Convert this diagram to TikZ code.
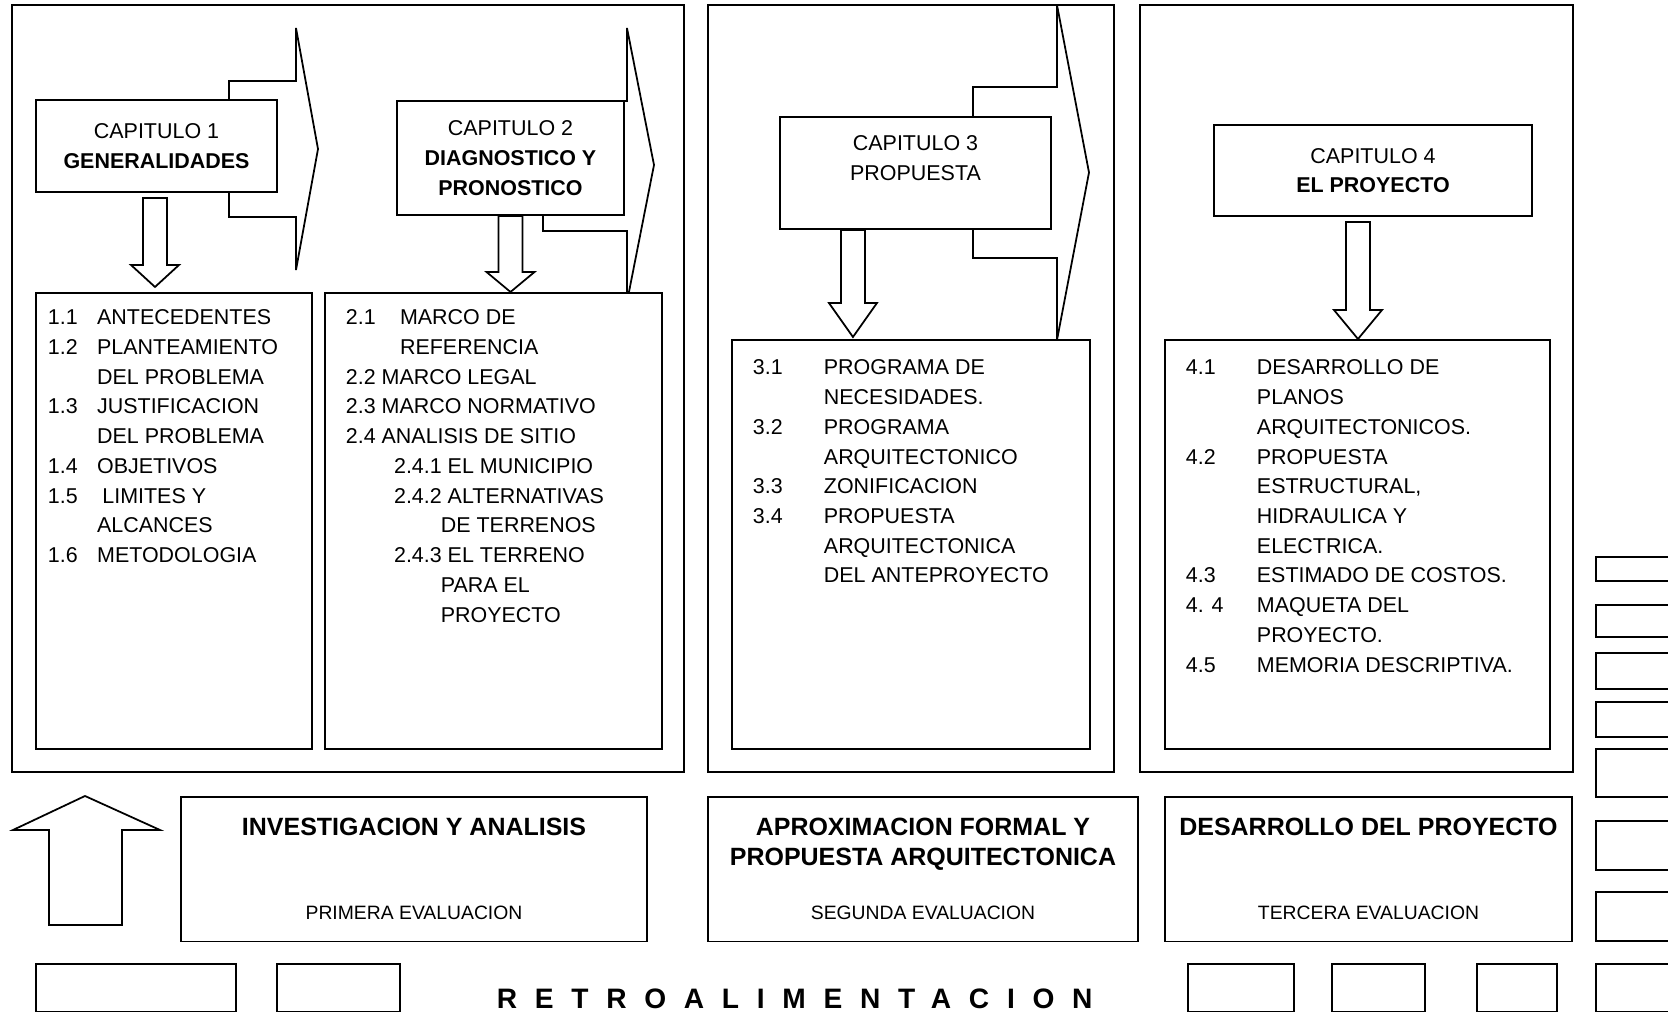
\documentclass[tikz,border=0pt]{standalone}
\usepackage{fontspec}
\setmainfont{Liberation Sans}
\newfontfamily\spacedfont[LetterSpace=63]{Liberation Sans}
\usetikzlibrary{calc}
\newcommand{\listfont}{\fontsize{6.1}{8.45}\selectfont}
\newcommand{\listline}[3][14pt]{\makebox[#1][l]{#2}#3}

\begin{document}
\begin{tikzpicture}[x=0.01cm, y=-0.01cm, line width=0.5pt,
  capbox/.style={draw, fill=white, inner sep=0pt, align=center, font=\listfont},
  listbox/.style={draw, fill=white, inner sep=0pt},
  listtxt/.style={anchor=north west, inner sep=0pt, align=left, font=\listfont},
  evalbox/.style={draw, fill=white, inner sep=0pt, minimum height=1.445cm},
  headtxt/.style={anchor=north, inner sep=0pt, align=center, font=\fontsize{7.1}{8.5}\selectfont\bfseries},
  evaltxt/.style={anchor=base, inner sep=0pt, font=\fontsize{5.5}{6.6}\selectfont},
  chev/.style={draw, fill=white, line join=miter},
  emptybox/.style={draw, fill=white},
  blockdown/.style={draw, fill=white, to path={
    let \p1=(\tikztostart), \p2=(\tikztotarget) in
    (\x1-0.12cm,\y1) -- (\x1-0.12cm,\y2+#1) -- (\x1-0.24cm,\y2+#1) -- (\x1,\y2)
    -- (\x1+0.24cm,\y2+#1) -- (\x1+0.12cm,\y2+#1) -- (\x1+0.12cm,\y1) -- cycle}},
  blockdown/.default=0.25cm]
\useasboundingbox (0,0) rectangle (1668,1013);
\clip (0,0) rectangle (1668,1013);
%
\draw (12,5) rectangle (684,772);
\draw (708,5) rectangle (1114,772);
\draw (1140,5) rectangle (1573,772);
%
\draw[chev] (229,81) -- (296,81) -- (296,28) -- (318,149) -- (296,270) -- (296,217) -- (229,217) -- cycle;
\draw[chev] (543,101) -- (627,101) -- (627,28) -- (654,165) -- (627,302) -- (627,231) -- (543,231) -- cycle;
\draw[chev] (973,87) -- (1057,87) -- (1057,5) -- (1089,172.5) -- (1057,340) -- (1057,258) -- (973,258) -- cycle;
%
\node[capbox, minimum width=2.41cm, minimum height=0.92cm] (cap1) at (156.5,146) {CAPITULO 1\\\textbf{GENERALIDADES}};
\node[capbox, minimum width=2.27cm, minimum height=1.14cm] (cap2) at (510.5,158) {CAPITULO 2\\\textbf{DIAGNOSTICO Y}\\\textbf{PRONOSTICO}};
\node[capbox, minimum width=2.71cm, minimum height=1.12cm] (cap3) at (915.5,173) {CAPITULO 3\\PROPUESTA\\ \mbox{}};
\node[capbox, minimum width=3.18cm, minimum height=0.91cm] (cap4) at (1373,170.5) {CAPITULO 4\\\textbf{EL PROYECTO}};
%
\node[listbox, minimum width=2.76cm, minimum height=4.56cm] (list1) at (174,521) {};
\node[listbox, minimum width=3.37cm, minimum height=4.56cm] (list2) at (493.5,521) {};
\node[listbox, minimum width=3.58cm, minimum height=4.09cm] (list3) at (911,544.5) {};
\node[listbox, minimum width=3.85cm, minimum height=4.09cm] (list4) at (1357.5,544.5) {};
%
\coordinate (a1) at ([xshift=-0.015cm,yshift=-0.05cm]cap1.south);
\coordinate (b1) at ($(a1 |- list1.north)+(0,-5)$);
\draw[blockdown=0.22cm] (a1) to (b1);
\coordinate (a2) at (cap2.south);
\coordinate (b2) at (a2 |- list2.north);
\draw[blockdown=0.2cm] (a2) to (b2);
\coordinate (a3) at ([xshift=-0.625cm]cap3.south);
\coordinate (b3) at ($(a3 |- list3.north)+(0,-2)$);
\draw[blockdown=0.34cm] (a3) to (b3);
\coordinate (a4) at ([xshift=-0.15cm,yshift=-0.05cm]cap4.south);
\coordinate (b4) at (a4 |- list4.north);
\draw[blockdown=0.29cm] (a4) to (b4);
%
\node[listtxt] (items1) at ([xshift=0.12cm,yshift=-0.17cm]list1.north west) {%
\listline{1.1}{ANTECEDENTES}\\
\listline{1.2}{PLANTEAMIENTO}\\
\listline{}{DEL PROBLEMA}\\
\listline{1.3}{JUSTIFICACION}\\
\listline{}{DEL PROBLEMA}\\
\listline{1.4}{OBJETIVOS}\\
\listline{1.5}{\hspace{1.5pt}LIMITES Y}\\
\listline{}{ALCANCES}\\
\listline{1.6}{METODOLOGIA}};
\node[listtxt] (items2) at ([xshift=0.21cm,yshift=-0.17cm]list2.north west) {%
\listline[15.4pt]{2.1}{MARCO DE}\\
\listline[15.4pt]{}{REFERENCIA}\\
2.2 MARCO LEGAL\\
2.3 MARCO NORMATIVO\\
2.4 ANALISIS DE SITIO\\
\hspace*{13.7pt}2.4.1 EL MUNICIPIO\\
\hspace*{13.7pt}2.4.2 ALTERNATIVAS\\
\hspace*{27pt}DE TERRENOS\\
\hspace*{13.7pt}2.4.3 EL TERRENO\\
\hspace*{27pt}PARA EL\\
\hspace*{27pt}PROYECTO};
\node[listtxt] (items3) at ([xshift=0.21cm,yshift=-0.2cm]list3.north west) {%
\listline[20.2pt]{3.1}{PROGRAMA DE}\\
\listline[20.2pt]{}{NECESIDADES.}\\
\listline[20.2pt]{3.2}{PROGRAMA}\\
\listline[20.2pt]{}{ARQUITECTONICO}\\
\listline[20.2pt]{3.3}{ZONIFICACION}\\
\listline[20.2pt]{3.4}{PROPUESTA}\\
\listline[20.2pt]{}{ARQUITECTONICA}\\
\listline[20.2pt]{}{DEL ANTEPROYECTO}};
\node[listtxt] (items4) at ([xshift=0.21cm,yshift=-0.2cm]list4.north west) {%
\listline[20.2pt]{4.1}{DESARROLLO DE}\\
\listline[20.2pt]{}{PLANOS}\\
\listline[20.2pt]{}{ARQUITECTONICOS.}\\
\listline[20.2pt]{4.2}{PROPUESTA}\\
\listline[20.2pt]{}{ESTRUCTURAL,}\\
\listline[20.2pt]{}{HIDRAULICA Y}\\
\listline[20.2pt]{}{ELECTRICA.}\\
\listline[20.2pt]{4.3}{ESTIMADO DE COSTOS.}\\
\listline[20.2pt]{4. 4}{MAQUETA DEL}\\
\listline[20.2pt]{}{PROYECTO.}\\
\listline[20.2pt]{4.5}{MEMORIA DESCRIPTIVA.}};
%
\draw[chev] (49,925) -- (49,830) -- (13,830) -- (85,796) -- (160,830) -- (122,830) -- (122,925) -- cycle;
%
\node[evalbox, minimum width=4.66cm] (inv) at (414,869.25) {};
\node[headtxt] (invh) at ([yshift=-0.21cm]inv.north) {INVESTIGACION Y ANALISIS};
\node[evaltxt] (inve) at ([yshift=0.225cm]inv.south) {PRIMERA EVALUACION};
\node[evalbox, minimum width=4.30cm] (apr) at (923,869.25) {};
\node[headtxt] (aprh) at ([yshift=-0.21cm]apr.north) {APROXIMACION FORMAL Y\\PROPUESTA ARQUITECTONICA};
\node[evaltxt] (apre) at ([yshift=0.225cm]apr.south) {SEGUNDA EVALUACION};
\node[evalbox, minimum width=4.07cm] (des) at (1368.5,869.25) {};
\node[headtxt] (desh) at ([yshift=-0.21cm]des.north) {DESARROLLO DEL PROYECTO};
\node[evaltxt] (dese) at ([yshift=0.225cm]des.south) {TERCERA EVALUACION};
%
\foreach \ya/\yb in {557/581, 605/637, 653/689, 702/737, 749/797, 821/870, 892/941, 964/1011.5}
  \draw[emptybox] (1596,\ya) rectangle (1690,\yb);
\foreach \xa/\xb in {36/236, 277/400, 1188/1294, 1332/1425, 1477/1557}
  \draw[emptybox] (\xa,964) rectangle (\xb,1011.5);
%
\node[anchor=north west, inner sep=0pt, font=\spacedfont\fontsize{8}{10}\selectfont\bfseries] (retro) at (496,988) {RETROALIMENTACION};
%
\end{tikzpicture}
\end{document}
